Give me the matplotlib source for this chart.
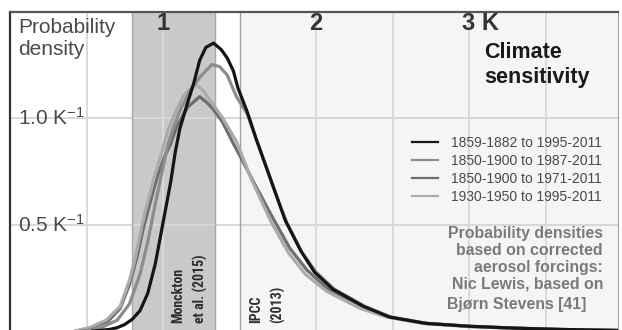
import matplotlib
matplotlib.use("Agg")
import matplotlib.pyplot as plt
import matplotlib.transforms as mtrans

plt.rcParams['font.family'] = ['Liberation Sans', 'DejaVu Sans']
plt.rcParams['mathtext.fontset'] = 'custom'
plt.rcParams['mathtext.rm'] = 'Liberation Sans'
plt.rcParams['mathtext.it'] = 'Liberation Sans'

# ---- data (climate sensitivity K, probability density 1/K) ----
labels = ["1859-1882 to 1995-2011", "1850-1900 to 1987-2011",
          "1850-1900 to 1971-2011", "1930-1950 to 1995-2011"]

k_a = [0.40, 0.55, 0.65, 0.70, 0.75, 0.80, 0.85, 0.90, 0.95, 1.00, 1.05, 1.08, 1.11,
       1.16, 1.20, 1.24, 1.28, 1.33, 1.38, 1.42, 1.46, 1.49, 1.55, 1.61, 1.65, 1.70,
       1.75, 1.80, 1.85, 1.90, 1.99, 2.11, 2.31, 2.48, 2.72, 3.00, 3.30, 3.60, 4.00]
d_a = [0.00, 0.005, 0.012, 0.02, 0.035, 0.06, 0.10, 0.18, 0.32, 0.51, 0.70, 0.84, 0.95,
       1.07, 1.16, 1.27, 1.33, 1.35, 1.32, 1.28, 1.22, 1.14, 1.03, 0.90, 0.82, 0.72,
       0.62, 0.52, 0.45, 0.38, 0.28, 0.20, 0.12, 0.07, 0.04, 0.027, 0.018, 0.012, 0.007]

k_b = [0.40, 0.50, 0.60, 0.70, 0.78, 0.85, 0.90, 0.95, 1.00, 1.03, 1.07, 1.12, 1.18,
       1.24, 1.32, 1.37, 1.42, 1.48, 1.55, 1.61, 1.66, 1.71, 1.76, 1.81, 1.86, 1.91,
       2.00, 2.12, 2.32, 2.49, 2.73, 3.00, 3.30, 3.60, 4.00]
d_b = [0.00, 0.008, 0.022, 0.055, 0.13, 0.27, 0.42, 0.60, 0.77, 0.87, 0.96, 1.05, 1.13,
       1.19, 1.25, 1.24, 1.20, 1.10, 1.02, 0.90, 0.80, 0.70, 0.60, 0.51, 0.44, 0.37,
       0.28, 0.20, 0.12, 0.07, 0.04, 0.027, 0.018, 0.012, 0.007]

k_c = [0.40, 0.53, 0.64, 0.72, 0.78, 0.83, 0.87, 0.91, 0.96, 1.01, 1.05, 1.09, 1.16,
       1.24, 1.29, 1.33, 1.39, 1.46, 1.52, 1.60, 1.72, 1.83, 1.94, 2.08, 2.30, 2.47,
       2.70, 3.00, 3.50, 4.00]
d_c = [0.00, 0.02, 0.05, 0.11, 0.22, 0.35, 0.48, 0.59, 0.72, 0.82, 0.88, 0.96, 1.05,
       1.10, 1.07, 1.04, 0.98, 0.88, 0.80, 0.69, 0.53, 0.39, 0.29, 0.20, 0.12, 0.07,
       0.042, 0.026, 0.013, 0.007]

k_d = [0.40, 0.52, 0.63, 0.72, 0.78, 0.82, 0.86, 0.89, 0.95, 1.00, 1.03, 1.09, 1.13,
       1.21, 1.26, 1.31, 1.39, 1.48, 1.58, 1.71, 1.82, 1.93, 2.07, 2.29, 2.46, 2.70,
       3.00, 3.50, 4.00]
d_d = [0.00, 0.02, 0.056, 0.12, 0.24, 0.35, 0.49, 0.58, 0.74, 0.86, 0.94, 1.04, 1.10,
       1.16, 1.13, 1.08, 1.00, 0.89, 0.71, 0.51, 0.37, 0.27, 0.19, 0.11, 0.07, 0.04,
       0.025, 0.012, 0.006]

top_ticks = [1, 2, 3]
top_tick_labels = ["1", "2", "3 K"]
y_ticks = [0.5, 1.0]
y_tick_labels = [r"0.5 K$^{-1}$", r"1.0 K$^{-1}$"]
monckton_range = (0.80, 1.34)
ipcc_low = 1.5

# ---- figure ----
W, H = 622, 330
fig = plt.figure(figsize=(W / 100, H / 100), dpi=100)
ax = fig.add_axes([10 / W, 0, 608 / W, 318 / H])
ax.set_xlim(0, 608 / 153)
ax.set_ylim(2 / 214, 320 / 214)

# backgrounds
ax.axvspan(ipcc_low, 5, color="#f5f5f5", zorder=0, lw=0)
ax.axvspan(*monckton_range, color="#c9c9c9", zorder=0.5, lw=0)
for xv in monckton_range:
    ax.axvline(xv, color="#a8a8a8", lw=1.0, zorder=0.8)
ax.axvline(ipcc_low, color="#a0a0a0", lw=1.0, zorder=0.8)

# grid
for xv in [0.5, 1.0, 2.0, 2.5, 3.0, 3.5]:
    ax.axvline(xv, color="#dadada", lw=1.4, zorder=0.7)
for yv in y_ticks:
    ax.axhline(yv, color="#d8d8d8", lw=1.4, zorder=0.7)

# curves (draw light ones first, black on top)
lc = ax.plot(k_c, d_c, color="#6e6e6e", lw=2.3, zorder=3)[0]
ld = ax.plot(k_d, d_d, color="#ababab", lw=2.3, zorder=3.1)[0]
lb = ax.plot(k_b, d_b, color="#8c8c8c", lw=2.3, zorder=3.2)[0]
la = ax.plot(k_a, d_a, color="#151515", lw=2.3, zorder=3.3)[0]

# spines
ax.spines["bottom"].set_visible(False)
ax.spines["left"].set_color("#333333")
ax.spines["left"].set_linewidth(1.6)
ax.spines["top"].set_color("#555555")
ax.spines["top"].set_linewidth(1.6)
ax.spines["right"].set_color("#a0a0a0")
ax.spines["right"].set_linewidth(0.8)
ax.set_xticks([])
ax.set_yticks([])

tr = ax.transAxes
xfig = mtrans.blended_transform_factory(ax.transData, fig.transFigure)

# y labels
for yv, lab in zip(y_ticks, y_tick_labels):
    ax.text(8 / 608, yv, lab, transform=ax.get_yaxis_transform(), ha="left",
            va="center", fontsize=15, color="#4a4a4a", zorder=5)

ax.text(8 / 608, (330 - 18) / 318, "Probability\ndensity", transform=tr, ha="left",
        va="top", fontsize=15, color="#4a4a4a", linespacing=1.2, zorder=5)

# top x labels
for xv, lab in zip(top_ticks, top_tick_labels):
    if lab.endswith("K"):
        ax.text(xv - 0.045, 1 - 24 / H, lab, transform=xfig, ha="left", va="center",
                fontsize=17, fontweight="bold", color="#333333")
    else:
        ax.text(xv, 1 - 24 / H, lab, transform=xfig, ha="center", va="center",
                fontsize=17, fontweight="bold", color="#333333")

ax.text((484 - 10) / 608, (330 - 42) / 318, "Climate\nsensitivity", transform=tr,
        ha="left", va="top", fontsize=15.5, fontweight="bold", color="#1a1a1a",
        linespacing=1.22, zorder=5)

# legend
leg = ax.legend([la, lb, lc, ld], labels, loc="upper left",
                bbox_to_anchor=((412 - 10) / 608, (330 - 136) / 318),
                frameon=False, fontsize=10, handlelength=1.85, handletextpad=0.95,
                labelspacing=0.28, borderaxespad=0, borderpad=0)
for t in leg.get_texts():
    t.set_color("#4a4a4a")
for h in leg.legend_handles:
    h.set_linewidth(1.6)

# annotation
ax.text((603 - 10) / 608, (330 - 226) / 318,
        "Probability densities\nbased on corrected\naerosol forcings:\nNic Lewis, based on",
        transform=tr, ha="right", va="top", fontsize=11.4, fontweight="bold",
        color="#7a7a7a", linespacing=1.15, zorder=5)
ax.text((586 - 10) / 608, (330 - 297) / 318, "Bjørn Stevens [41]",
        transform=tr, ha="right", va="top", fontsize=11.4, fontweight="bold",
        color="#7a7a7a", zorder=5)

# rotated labels
narrow = ["Roboto Condensed", "Liberation Sans Narrow", "Liberation Sans"]
ax.text((190 - 10) / 153, (330 - 323) / 318, "Monckton\net al. (2015)",
        transform=mtrans.blended_transform_factory(ax.transData, tr),
        rotation=90, ha="center", va="bottom", multialignment="left",
        fontsize=10, fontweight="bold", family=narrow, color="#2e2e2e",
        linespacing=1.65, zorder=5)
ax.text((267 - 10) / 153, (330 - 323) / 318, "IPCC\n(2013)",
        transform=mtrans.blended_transform_factory(ax.transData, tr),
        rotation=90, ha="center", va="bottom", multialignment="left",
        fontsize=10, fontweight="bold", family=narrow, color="#2e2e2e",
        linespacing=1.65, zorder=5)

fig.savefig("out.png", dpi=100)
